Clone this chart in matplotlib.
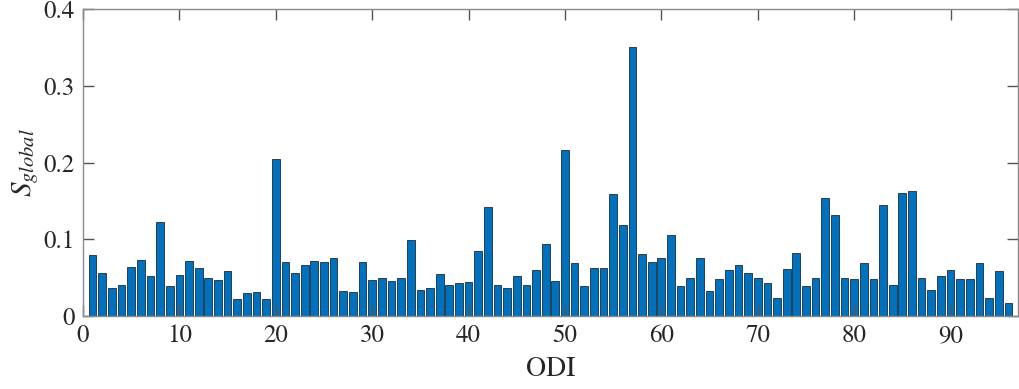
import matplotlib
matplotlib.use("Agg")
import matplotlib.pyplot as plt

odi = list(range(1, 97))
s_global = [
    0.0795, 0.056, 0.037, 0.041, 0.064, 0.073, 0.052, 0.122, 0.039, 0.053,
    0.072, 0.062, 0.050, 0.047, 0.059, 0.022, 0.030, 0.031, 0.022, 0.204,
    0.070, 0.056, 0.067, 0.072, 0.070, 0.076, 0.033, 0.031, 0.071, 0.047,
    0.050, 0.046, 0.049, 0.099, 0.034, 0.037, 0.055, 0.040, 0.043, 0.044,
    0.085, 0.142, 0.040, 0.037, 0.052, 0.041, 0.060, 0.094, 0.046, 0.216,
    0.069, 0.039, 0.062, 0.063, 0.159, 0.118, 0.350, 0.081, 0.070, 0.075,
    0.106, 0.039, 0.050, 0.075, 0.033, 0.048, 0.060, 0.067, 0.056, 0.050,
    0.043, 0.024, 0.061, 0.082, 0.039, 0.049, 0.154, 0.131, 0.050, 0.048,
    0.069, 0.048, 0.145, 0.040, 0.160, 0.163, 0.049, 0.034, 0.052, 0.060,
    0.048, 0.048, 0.069, 0.023, 0.059, 0.017,
]
x_ticks = [0, 10, 20, 30, 40, 50, 60, 70, 80, 90]
y_ticks = [0, 0.1, 0.2, 0.3, 0.4]
y_tick_labels = ["0", "0.1", "0.2", "0.3", "0.4"]

plt.rcParams['font.family'] = ['TeX Gyre Termes', 'Liberation Serif', 'DejaVu Serif']
plt.rcParams['mathtext.fontset'] = 'custom'
plt.rcParams['mathtext.rm'] = 'TeX Gyre Termes'
plt.rcParams['mathtext.it'] = 'TeX Gyre Termes:italic'

fig = plt.figure(figsize=(10.19, 3.89), dpi=100)
ax = fig.add_axes([83/1019, 1-316/389, (1018-83)/1019, (316-9)/389])

ax.bar(odi, s_global, width=0.8, color='#0072BD', edgecolor='#1c2a3a', linewidth=0.6)

ax.set_xlim(0, 97)
ax.set_ylim(0, 0.4)
ax.set_xticks(x_ticks)
ax.set_xticklabels([str(t) for t in x_ticks])
ax.set_yticks(y_ticks)
ax.set_yticklabels(y_tick_labels)

for sp in ax.spines.values():
    sp.set_color('#8a8a8a')
    sp.set_linewidth(1.0)
ax.tick_params(direction='in', length=8, width=1, color='#555555',
               top=True, right=True, labelsize=18, labelcolor='#262626', pad=6)

ax.set_xlabel('ODI', fontsize=20, color='#262626', labelpad=6)
ax.set_ylabel(r'$S_{global}$', fontsize=21, color='#262626', labelpad=2)

fig.savefig('out.png', dpi=100)
